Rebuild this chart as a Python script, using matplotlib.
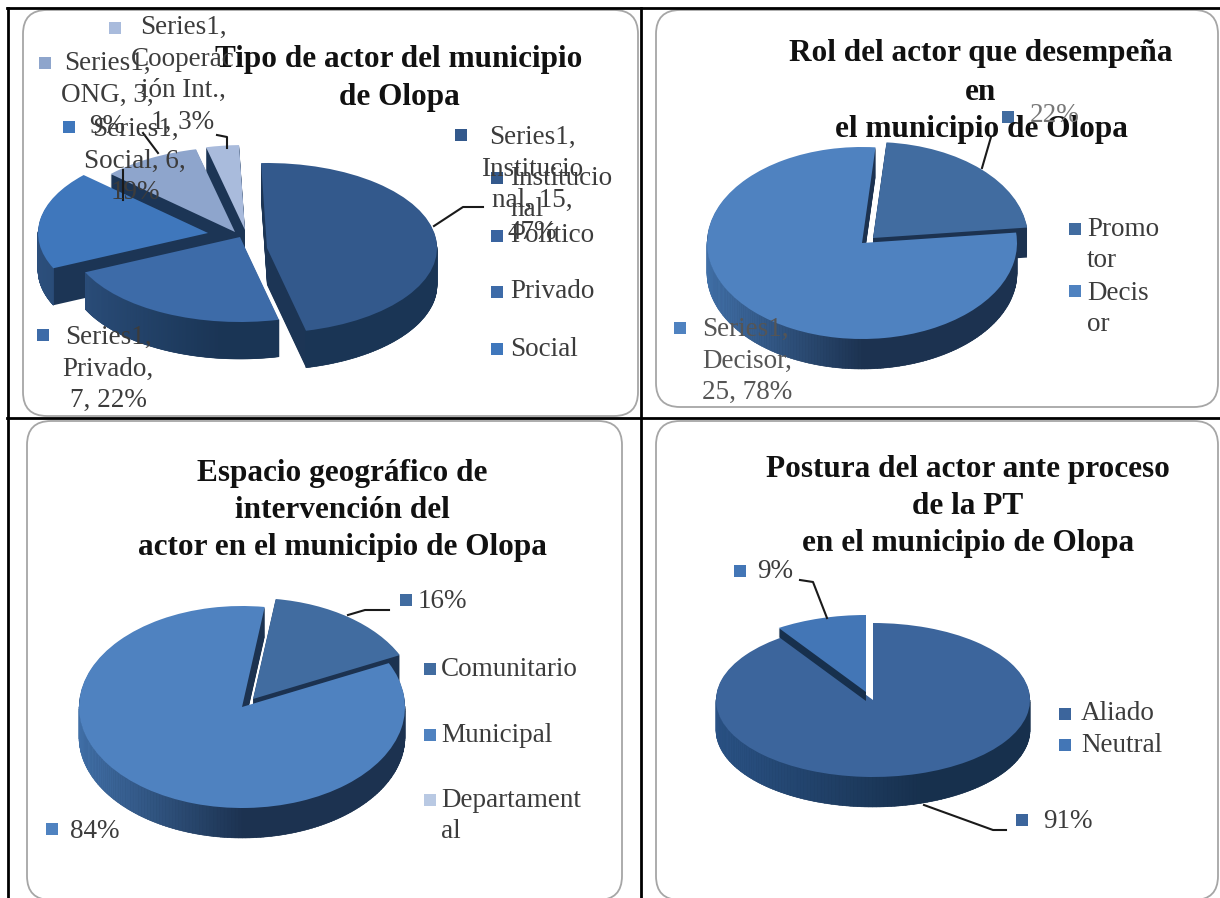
import numpy as np
import matplotlib
matplotlib.use("Agg")
import matplotlib.pyplot as plt
from matplotlib.patches import FancyBboxPatch, Wedge
from matplotlib.collections import PolyCollection
from matplotlib.colors import to_rgb

W, H = 1220, 898
plt.rcParams['font.family'] = ['Liberation Serif', 'DejaVu Serif']

# data
tipo_cats = ['Institucional', 'Político', 'Privado', 'Social', 'ONG', 'Cooperación Int.']
tipo_vals = [15, 0, 7, 6, 3, 1]
rol_cats = ['Promotor', 'Decisor']
rol_vals = [7, 25]
espacio_cats = ['Comunitario', 'Municipal', 'Departamental']
espacio_vals = [5, 27, 0]
postura_cats = ['Aliado', 'Neutral']
postura_vals = [29, 3]

# slice colours
tipo_cols = ['#33598c', '#3a64a0', '#3d6ba8', '#3f77bc', '#8ea5cc', '#a9bbdc']
rol_cols = ['#416ca0', '#4f82c0']
espacio_cols = ['#416ca0', '#4f82c0', '#b9c9e3']
postura_cols = ['#3c659c', '#4376b6']

fig = plt.figure(figsize=(W / 100, H / 100), dpi=100, facecolor='white')

# background layer and text layer, both in image pixels
bg = fig.add_axes([0, 0, 1, 1], zorder=0)
fg = fig.add_axes([0, 0, 1, 1], zorder=5)
for a in (bg, fg):
    a.set_xlim(0, W)
    a.set_ylim(H, 0)
    a.axis('off')
    a.patch.set_alpha(0)

for x0, y0, x1, y1 in [(23, 10, 638, 416), (656, 10, 1218, 407), (27, 421, 622, 900), (656, 421, 1218, 900)]:
    bg.add_patch(FancyBboxPatch((x0 + 24, y0 + 24), x1 - x0 - 48, y1 - y0 - 48,
                                boxstyle='round,pad=24,rounding_size=24',
                                fc='white', ec='#a6a6a6', lw=1.3))
bg.plot([7, 1220], [8, 8], color='black', lw=2)
bg.plot([7, 1220], [417.5, 417.5], color='black', lw=2)
bg.plot([7.5, 7.5], [8, 898], color='black', lw=2)
bg.plot([640.5, 640.5], [8, 898], color='black', lw=2)


def lerp(c0, c1, t):
    c0, c1 = np.array(to_rgb(c0)), np.array(to_rgb(c1))
    return tuple(c0 + (c1 - c0) * t)


def draw_pie(box, cx, cy, rx, ry, depths, vals, cols, start, shifts, order, side):
    L, T, R, B = box
    ax = fig.add_axes([L / W, 1 - B / H, (R - L) / W, (B - T) / H], zorder=2)
    wedges, _ = ax.pie(vals, colors=cols, startangle=start, counterclock=False,
                       wedgeprops={'linewidth': 0})
    ax.set_aspect('auto')
    ax.set_xlim((L - cx) / rx, (R - cx) / rx)
    ax.set_ylim((cy - B) / ry, (cy - T) / ry)
    ax.patch.set_alpha(0)

    for i, w in enumerate(wedges):
        if vals[i] == 0:
            w.set_visible(False)
            continue
        z = 3 + 3 * order[i]
        depth = depths[i]
        ox, oy = shifts[i][0] / rx, -shifts[i][1] / ry
        w.set_center((ox, oy))
        w.set_zorder(z + 2)
        # extruded body of the slice
        for k in range(1, depth + 1):
            ax.add_patch(Wedge((ox, oy - k / ry), 1, w.theta1, w.theta2,
                               fc=side[2], lw=0, zorder=z))
        # shaded outer wall, only the part of the rim that faces the viewer
        angles = np.linspace(w.theta1, w.theta2, 240)
        angles = angles[np.sin(np.radians(angles)) < 0.02]
        if len(angles) < 2:
            continue
        polys, fc = [], []
        for a0, a1 in zip(angles[:-1], angles[1:]):
            x0, y0 = np.cos(np.radians(a0)) + ox, np.sin(np.radians(a0)) + oy
            x1, y1 = np.cos(np.radians(a1)) + ox, np.sin(np.radians(a1)) + oy
            polys.append([(x0, y0), (x1, y1), (x1, y1 - depth / ry), (x0, y0 - depth / ry)])
            t = min(1, max(0, (np.cos(np.radians(a0)) + 1) / side[3]))
            fc.append(lerp(side[0], side[1], t))
        ax.add_collection(PolyCollection(polys, facecolors=fc, edgecolors=fc, linewidths=0.4, zorder=z + 1))
    return ax


def title(lines, x, ys):
    for s, y in zip(lines, ys):
        fg.text(x, y, s, ha='center', va='center', fontsize=22.5, fontweight='bold', color='#111111')


def label(s, x, y, ha='center', color='#3c3c3c', size=19.5, spacing=1.35):
    fg.text(x, y, s, ha=ha, va='center', fontsize=size, color=color, linespacing=spacing)


def square(x, y, c, s=6):
    fg.fill([x - s, x + s, x + s, x - s], [y - s, y - s, y + s, y + s], color=c, lw=0)


def leader(xs, ys):
    fg.plot(xs, ys, color='#1a1a1a', lw=1.5)


# Tipo de actor
draw_pie((10, 10, 638, 416), 245, 240, 170, 85, [37, 0, 37, 37, 37, 37], tipo_vals, tipo_cols, 92,
         [(22, 8), (0, 0), (-5, -3), (-37, -7), (-10, -8), (0, -10)],
         [3, 0, 4, 2, 1, 0],
         ('#2c4f7c', '#1a3555', '#1c3555', 0.9))
# Rol del actor
draw_pie((645, 10, 1218, 407), 860, 243, 155, 96, [30, 30], rol_vals, rol_cols, 85,
         [(13, -5), (2, 0)], [0, 1],
         ('#4170a8', '#1c3250', '#1c3250', 1.0))
# Espacio geografico
draw_pie((20, 421, 638, 898), 242, 707, 163, 101, [30, 30, 30], espacio_vals, espacio_cols, 82,
         [(11, -8), (0, 0), (0, 0)], [0, 1, 2],
         ('#4170a8', '#1c3250', '#1c3250', 1.0))
# Postura del actor
draw_pie((645, 421, 1218, 898), 873, 700, 157, 77, [30, 9], postura_vals, postura_cols, 90,
         [(0, 0), (-7, -8)], [0, 1],
         ('#2a5285', '#17304d', '#17304d', 1.3))

title(['Tipo de actor del municipio', 'de Olopa'], 399, [60, 97])
title(['Rol del actor que desempeña', 'en', 'el municipio de Olopa'], 981, [54, 92, 130])
title(['Espacio geográfico de', 'intervención del', 'actor en el municipio de Olopa'], 342, [473, 510, 548])
title(['Postura del actor ante proceso', 'de la PT', 'en el municipio de Olopa'], 968, [470, 507, 543])

# data labels, chart 1
square(115, 28, tipo_cols[5])
label('Series1,\nCooperac\nión Int.,\n1, 3%', 183, 75)
square(45, 63, tipo_cols[4])
label('Series1,\nONG, 3,\n9%', 107, 95)
square(69, 127, tipo_cols[3])
label('Series1,\nSocial, 6,\n19%', 135, 161)
square(43, 335, tipo_cols[2])
label('Series1,\nPrivado,\n7, 22%', 108, 369)
square(461, 135, tipo_cols[0])
label('Series1,\nInstitucio\nnal, 15,\n47%', 532, 185)
leader([434, 463, 483], [226, 207, 207])
leader([143, 158], [133, 153])
leader([123, 123], [170, 200])
leader([217, 227, 227], [135, 137, 148])
square(497, 178, tipo_cols[0])
label('Institucio\nnal', 510, 194, ha='left')
square(497, 236, tipo_cols[1])
label('Político', 510, 236, ha='left')
square(497, 292, tipo_cols[2])
label('Privado', 510, 292, ha='left')
square(497, 349, tipo_cols[3])
label('Social', 510, 349, ha='left')

# chart 2
square(1008, 117, rol_cols[0])
label('22%', 1030, 115, ha='left', color='#777777')
leader([991, 982], [137, 168])
square(680, 328, rol_cols[1])
label('Series1,\nDecisor,\n25, 78%', 702, 361, ha='left', color='#555555')
square(1075, 229, rol_cols[0])
label('Promo\ntor', 1087, 245, ha='left')
square(1075, 291, rol_cols[1])
label('Decis\nor', 1087, 309, ha='left')

# chart 3
square(406, 600, espacio_cols[0])
label('16%', 418, 602, ha='left')
leader([348, 365, 389], [615, 610, 610])
square(52, 829, espacio_cols[1])
label('84%', 70, 831, ha='left')
square(430, 669, espacio_cols[0])
label('Comunitario', 441, 669, ha='left')
square(430, 735, espacio_cols[1])
label('Municipal', 441, 735, ha='left')
square(430, 800, espacio_cols[2])
label('Departament\nal', 441, 816, ha='left')

# chart 4
square(740, 571, postura_cols[1])
label('9%', 757, 572, ha='left')
leader([800, 813, 827], [580, 582, 618])
square(1022, 820, postura_cols[0])
label('91%', 1043, 821, ha='left')
leader([924, 993, 1006], [805, 830, 830])
square(1065, 714, postura_cols[0])
label('Aliado', 1081, 714, ha='left')
square(1065, 745, postura_cols[1])
label('Neutral', 1081, 745, ha='left')

fig.savefig('out.png', dpi=100)
